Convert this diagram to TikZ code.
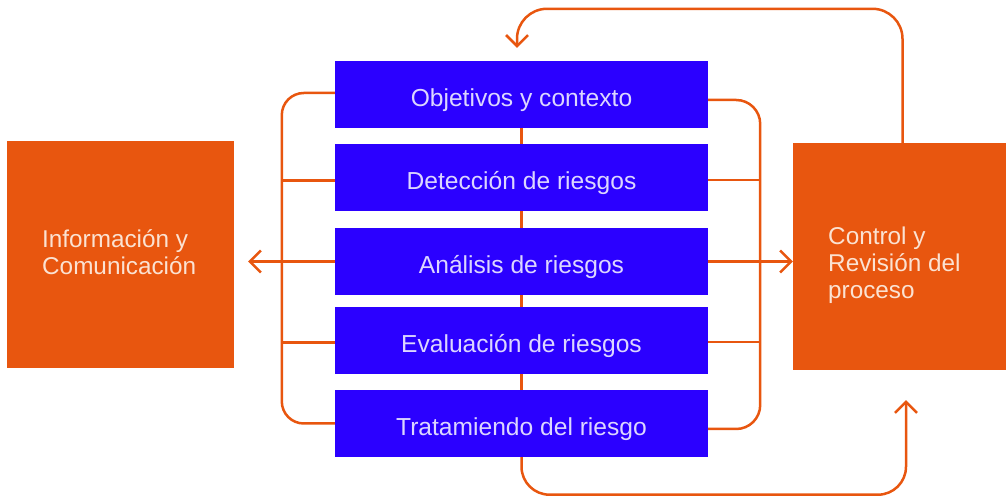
\documentclass[tikz,border=0pt]{standalone}
\usepackage{fontspec}
\setmainfont{Liberation Sans}
\usetikzlibrary{arrows.meta,calc}
\definecolor{bblue}{HTML}{2B00FF}
\definecolor{oorange}{HTML}{E8560F}
\definecolor{btext}{HTML}{DCD6FF}
\definecolor{otext}{HTML}{FBE2D2}
\tikzset{
  bluebox/.style={fill=bblue, draw=none, minimum width=373pt, minimum height=67pt, inner sep=0pt,
    text=btext, font=\fontsize{24.6pt}{27pt}\selectfont, text height=23.5pt, text depth=0pt},
  orangebox/.style={fill=oorange, draw=none, inner sep=0pt},
  otxt/.style={text=otext, font=\fontsize{24.3pt}{27pt}\selectfont, align=left, inner sep=0pt},
  conn/.style={draw=oorange, line width=2.5pt},
  arr/.style={conn, -{Straight Barb[length=11pt,width=22pt]}},
}
\begin{document}
\begin{tikzpicture}[x=1pt,y=1pt]
\useasboundingbox (0,0) rectangle (1006,497);
% orange boxes
\node[orangebox, minimum width=227pt, minimum height=227pt] (info) at (120.5,242.5) {};
\node[otxt, anchor=base west] (infot) at (42,222) {Información y\\Comunicación};
\node[orangebox, minimum width=213pt, minimum height=227pt] (ctrl) at (899.5,240.5) {};
\node[otxt, anchor=base west] (ctrlt) at (828,198) {Control y\\Revisión del\\proceso};
% blue boxes
\node[bluebox] (obj) at (521.5,402.5) {Objetivos y contexto};
\node[bluebox] (det) at (521.5,319.5) {Detección de riesgos};
\node[bluebox] (ana) at (521.5,235.5) {Análisis de riesgos};
\node[bluebox] (eva) at (521.5,156.5) {Evaluación de riesgos};
\node[bluebox] (trat) at (521.5,73.5) {Tratamiendo del riesgo};
% vertical chain
\draw[conn] (obj.south) -- (det.north);
\draw[conn] (det.south) -- (ana.north);
\draw[conn] (ana.south) -- (eva.north);
\draw[conn] (eva.south) -- (trat.north);
% left bracket
\draw[conn, rounded corners=22pt] ([yshift=1.5pt]obj.west) -- ++(-53,0) |- (trat.west);
\draw[conn] ([yshift=-3pt]det.west) -- ++(-53,0);
\draw[conn] ([yshift=-2pt]eva.west) -- ++(-53,0);
% right bracket
\draw[conn, rounded corners=24pt] ([yshift=-5.5pt]obj.east) -- ++(52,0) |- ([yshift=-5.5pt]trat.east);
\draw[conn] ([yshift=-2.5pt]det.east) -- ++(52,0);
\draw[conn] ([yshift=-1.5pt]eva.east) -- ++(52,0);
% arrows from analysis
\draw[arr, shorten >=14pt] (ana.west) -- (ana.west -| info.east);
\draw[arr] (ana.east) -- (ana.east -| ctrl.west);
% top loop
\draw[arr, rounded corners=30pt] ([xshift=3pt]ctrl.north) -- ++(0,134) -| ([xshift=-4.5pt,yshift=13pt]obj.north);
% bottom loop
\draw[arr, rounded corners=28pt] (trat.south) -- ++(0,-37.5) -| ([xshift=6.5pt,yshift=-30pt]ctrl.south);
\end{tikzpicture}
\end{document}
